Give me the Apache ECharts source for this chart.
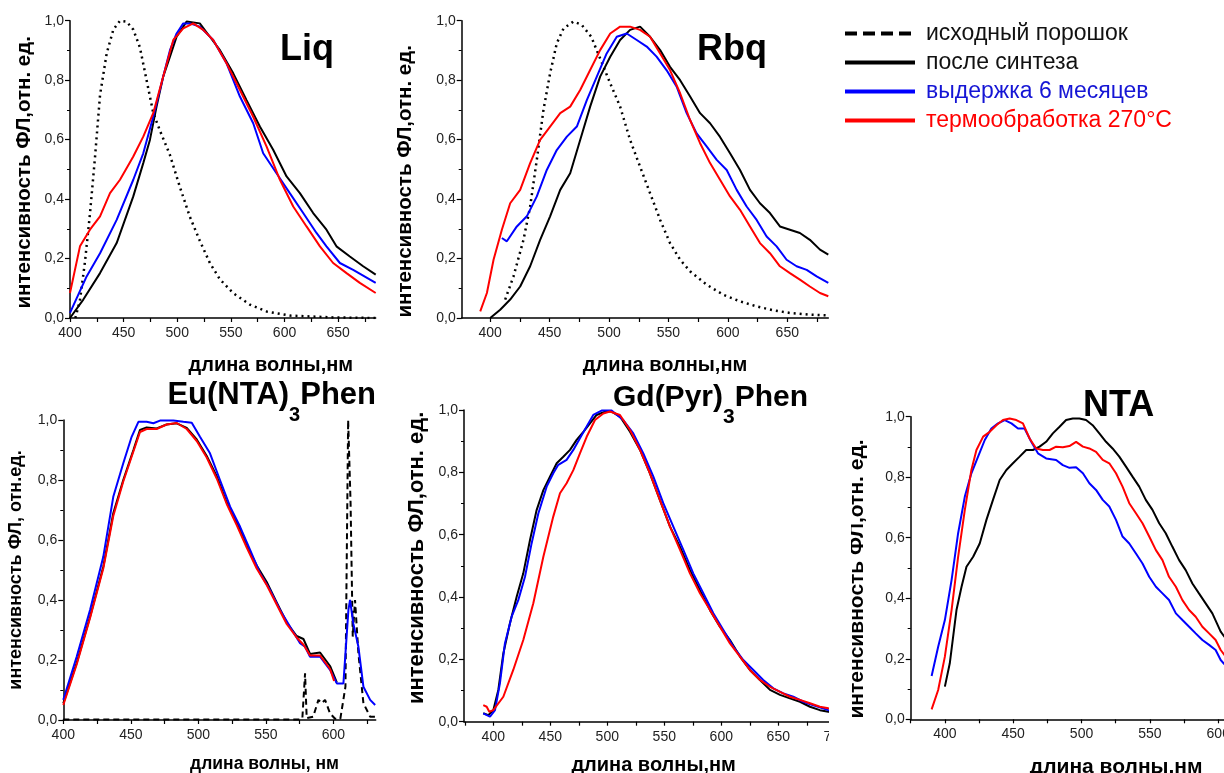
<!DOCTYPE html>
<html>
<head>
<meta charset="utf-8">
<title>Спектры ФЛ</title>
<script src="https://cdn.jsdelivr.net/npm/echarts@6.0.0/dist/echarts.min.js"></script>
<style>
    html, body { margin: 0; padding: 0; background: #fff; overflow: hidden; }
    #chart { width: 1224px; height: 773px; }
</style>
</head>
<body>
<div id="chart"></div>
<script>
// названия серий (легенда)
var names = ['исходный порошок', 'после синтеза', 'выдержка 6 месяцев', 'термообработка 270°C'];

// подписи оси X для каждого графика
var liqTicks = [400, 450, 500, 550, 600, 650];
var rbqTicks = [400, 450, 500, 550, 600, 650];
var euTicks = [400, 450, 500, 550, 600];
var gdTicks = [400, 450, 500, 550, 600, 650, 700];
var ntaTicks = [400, 450, 500, 550, 600];

// Liq
var liqPowder = [[405,0],[409.3,0.06],[414,0.19],[418.6,0.35],[423.3,0.54],[428,0.75],[434.2,0.89],[440.4,0.97],[446.6,1.0],[452.8,0.997],[459,0.97],[465.2,0.91],[471.4,0.8],[477.6,0.69],[483.9,0.63],[493,0.55],[502.5,0.44],[511.8,0.34],[521,0.26],[530.4,0.185],[539.8,0.13],[552,0.084],[567.7,0.045],[583.2,0.022],[605,0.008],[645,0.002],[685,0]];
var liqSynth = [[400,0],[412.4,0.062],[428,0.151],[443.5,0.252],[459,0.409],[468.3,0.521],[474.5,0.599],[480.7,0.711],[486.9,0.812],[493.2,0.879],[499.4,0.946],[508.7,0.997],[521,0.991],[530.4,0.946],[539.8,0.901],[552.2,0.823],[564.6,0.733],[577,0.644],[589.4,0.566],[601.9,0.476],[614.3,0.42],[626.7,0.353],[639.1,0.297],[648.4,0.241],[660.9,0.207],[673.3,0.174],[685,0.146]];
var liqAged = [[400,0.017],[415.5,0.14],[428,0.218],[443.5,0.33],[459,0.465],[468.3,0.554],[477.6,0.677],[486.9,0.812],[493.2,0.901],[499.4,0.957],[505.6,0.991],[511.8,0.991],[521,0.98],[533.5,0.935],[545.9,0.857],[558.4,0.745],[570.8,0.655],[580.1,0.554],[592.5,0.487],[604.9,0.42],[617.4,0.353],[629.8,0.286],[639.1,0.241],[651.6,0.185],[664,0.162],[685,0.118]];
var liqHeated = [[400,0.084],[409.3,0.241],[418.6,0.297],[428,0.342],[437.3,0.42],[446.6,0.465],[459,0.543],[468.3,0.61],[477.6,0.689],[486.9,0.812],[496.3,0.935],[505.6,0.974],[514.9,0.991],[524.2,0.969],[533.5,0.935],[545.9,0.857],[558.4,0.767],[570.8,0.677],[583.2,0.577],[595.7,0.465],[608.1,0.375],[620.5,0.308],[633,0.241],[645.3,0.185],[657.8,0.151],[670.2,0.118],[685,0.084]];

// Rbq
var rbqPowder = [[412.6,0.062],[419.6,0.14],[428,0.263],[433.6,0.375],[439.2,0.532],[444.8,0.7],[450.4,0.823],[456,0.924],[461.7,0.974],[470,0.997],[477,0.986],[485,0.946],[493,0.868],[501,0.789],[509.3,0.711],[517.7,0.599],[526,0.51],[534.5,0.42],[543,0.33],[551.3,0.252],[559.8,0.196],[568.2,0.157],[582.2,0.112],[596.2,0.078],[610.2,0.056],[624.2,0.039],[638.2,0.026],[652.2,0.017],[669,0.011],[684.5,0.009]];
var rbqSynth = [[400,0],[408.4,0.028],[416.8,0.062],[425.2,0.106],[433.6,0.174],[442,0.263],[450.4,0.342],[458.9,0.431],[467.3,0.487],[475.7,0.599],[484.1,0.711],[492.5,0.812],[501,0.879],[509.3,0.935],[517.7,0.969],[526.1,0.98],[534.5,0.946],[543,0.901],[551.3,0.845],[559.8,0.8],[568.2,0.745],[576.6,0.689],[585,0.655],[593.4,0.609],[601.8,0.554],[610.2,0.498],[618.6,0.431],[627,0.386],[635.4,0.353],[643.8,0.308],[652.2,0.297],[660.6,0.286],[669,0.263],[677.5,0.23],[684.5,0.213]];
var rbqAged = [[409.8,0.269],[414,0.258],[422.4,0.308],[430.8,0.342],[439.2,0.409],[447.6,0.498],[456,0.565],[464.5,0.61],[472.9,0.644],[481.3,0.733],[489.7,0.812],[498,0.89],[506.5,0.946],[514.9,0.957],[523.3,0.935],[531.7,0.913],[540,0.879],[548.5,0.833],[556.9,0.778],[565.3,0.689],[573.7,0.621],[582.1,0.577],[590.6,0.532],[599,0.498],[607.4,0.431],[615.8,0.375],[624.2,0.33],[632.6,0.274],[641,0.241],[649.4,0.196],[657.8,0.174],[666.3,0.162],[674.7,0.14],[684.5,0.118]];
var rbqHeated = [[391.6,0.022],[397.2,0.084],[402.8,0.196],[409.8,0.297],[416.8,0.386],[425.2,0.431],[433.6,0.521],[442,0.599],[450.4,0.644],[458.9,0.689],[467.3,0.711],[475.7,0.767],[484.1,0.834],[492.5,0.901],[501,0.957],[509.3,0.98],[517.7,0.98],[526.1,0.969],[534.5,0.946],[543,0.89],[551.3,0.834],[559.8,0.756],[568.2,0.666],[576.6,0.588],[585,0.521],[593.4,0.465],[601.8,0.409],[610.2,0.364],[618.6,0.308],[627,0.252],[635.4,0.218],[643.8,0.174],[652.2,0.151],[660.6,0.129],[669,0.106],[677.5,0.084],[684.5,0.073]];

// Eu(NTA)3Phen
var euPowder = [[400,0.002],[575,0.002],[577,0.006],[579,0.156],[580.2,0.006],[585,0.011],[588.9,0.067],[591.4,0.056],[593.8,0.067],[597.5,0.022],[601.2,0.004],[605.1,0.004],[608.9,0.111],[610.9,1.0],[612.7,0.722],[614.3,0.278],[616,0.4],[618.5,0.222],[622.2,0.056],[627.2,0.011],[631.4,0.011]];
var euSynth = [[400,0.056],[409.9,0.19],[419.8,0.344],[429.6,0.511],[437,0.689],[444.4,0.8],[451.9,0.9],[456.8,0.967],[461.7,0.975],[469.1,0.972],[476.5,0.985],[484,0.989],[491.4,0.974],[498.8,0.935],[506.2,0.88],[513.6,0.813],[521,0.725],[528.4,0.66],[535.8,0.582],[543.2,0.515],[550.6,0.46],[558,0.392],[565.4,0.325],[572.8,0.28],[577.8,0.27],[582.7,0.22],[590.1,0.225],[597.5,0.18],[602.5,0.125]];
var euAged = [[400,0.067],[409.9,0.211],[419.8,0.367],[429.6,0.544],[437,0.744],[444.4,0.856],[450.6,0.944],[455.6,0.994],[461.7,0.994],[466.7,0.989],[471.6,0.998],[481.5,0.998],[488.9,0.994],[495.1,0.991],[501.2,0.944],[508.6,0.889],[516,0.8],[523.5,0.711],[530.9,0.644],[538.3,0.567],[545.7,0.489],[553.1,0.433],[560.5,0.367],[567.9,0.311],[575.3,0.256],[579,0.244],[582.7,0.211],[590.1,0.211],[597.5,0.167],[602.5,0.122],[607.4,0.122],[611.1,0.367],[612.3,0.4],[614.7,0.322],[618.5,0.244],[622.2,0.111],[627.2,0.067],[630.9,0.05]];
var euHeated = [[400,0.05],[409.9,0.185],[419.8,0.34],[429.6,0.505],[437,0.68],[444.4,0.795],[451.9,0.895],[456.8,0.96],[461.7,0.97],[469.1,0.97],[476.5,0.985],[484,0.99],[491.4,0.97],[498.8,0.93],[506.2,0.875],[513.6,0.805],[521,0.72],[528.4,0.65],[535.8,0.575],[543.2,0.505],[550.6,0.45],[558,0.385],[565.4,0.32],[572.8,0.275],[578,0.25],[582.7,0.215],[590.1,0.215],[597.5,0.17],[600.5,0.13]];

// Gd(Pyr)3Phen
var gdSynth = [[391.2,0.027],[395.6,0.021],[400,0.037],[404.4,0.102],[408.8,0.219],[414.6,0.316],[420.5,0.401],[426.3,0.476],[432.2,0.583],[438,0.679],[443.9,0.743],[449.7,0.786],[455.6,0.829],[461.4,0.85],[467.3,0.872],[473.1,0.904],[479,0.93],[484.8,0.957],[490.6,0.984],[498,0.995],[503.8,0.995],[511.1,0.979],[519.9,0.93],[528.7,0.872],[537.4,0.797],[546.2,0.711],[555,0.626],[563.8,0.561],[572.5,0.487],[581.3,0.422],[590.1,0.358],[598.8,0.305],[607.6,0.262],[616.4,0.209],[625.1,0.166],[633.9,0.134],[642.7,0.102],[651.5,0.086],[660.2,0.075],[669,0.064],[677.8,0.048],[686.5,0.037],[693.9,0.032],[700,0.03]];
var gdAged = [[391.2,0.027],[397.1,0.016],[401.5,0.037],[405.8,0.123],[410.2,0.251],[416.1,0.337],[421.9,0.39],[427.8,0.465],[433.6,0.572],[439.5,0.668],[446.8,0.754],[452.6,0.797],[457,0.824],[464.3,0.84],[470.2,0.872],[476,0.909],[481.9,0.947],[487.7,0.984],[495,0.998],[503.8,0.998],[514,0.968],[522.8,0.925],[531.6,0.861],[540.4,0.786],[549.1,0.701],[557.9,0.626],[566.7,0.551],[575.4,0.476],[584.2,0.412],[593,0.348],[601.8,0.294],[610.5,0.241],[619.3,0.198],[628.1,0.166],[636.8,0.134],[645.6,0.107],[654.4,0.091],[663.2,0.08],[671.9,0.064],[680.7,0.053],[693.9,0.037],[700,0.035]];
var gdHeated = [[391.2,0.053],[394.2,0.048],[396.5,0.032],[400,0.037],[408.8,0.08],[417.5,0.166],[426.3,0.262],[435.1,0.38],[443.9,0.529],[452.6,0.658],[458.5,0.733],[464.3,0.765],[470.2,0.807],[476,0.861],[481.9,0.914],[489.2,0.968],[496.5,0.989],[502.3,0.995],[511.1,0.984],[519.9,0.936],[528.7,0.872],[537.4,0.797],[546.2,0.711],[555,0.626],[563.8,0.551],[572.5,0.476],[581.3,0.412],[590.1,0.358],[598.8,0.305],[607.6,0.251],[616.4,0.209],[625.1,0.166],[633.9,0.134],[642.7,0.112],[651.5,0.096],[660.2,0.08],[669,0.07],[677.8,0.059],[686.5,0.048],[693.9,0.043],[700,0.04]];

// NTA
var ntaSynth = [[400,0.108],[403.6,0.185],[408.5,0.361],[412.2,0.438],[415.8,0.504],[420.7,0.537],[425.5,0.581],[430.4,0.659],[435.2,0.725],[440.1,0.791],[445,0.824],[449.8,0.846],[454.7,0.868],[459.5,0.89],[464.4,0.89],[469.3,0.901],[474.1,0.917],[479,0.945],[483.9,0.967],[488.7,0.989],[493.6,0.994],[498.4,0.994],[503.3,0.989],[508.1,0.972],[513,0.945],[517.9,0.917],[522.7,0.895],[527.6,0.868],[532.5,0.835],[537.3,0.802],[542.2,0.769],[547,0.725],[551.9,0.692],[556.8,0.648],[561.6,0.615],[566.5,0.57],[571.4,0.526],[576.2,0.493],[581.1,0.449],[585.9,0.416],[590.8,0.383],[595.7,0.35],[601.8,0.29],[605,0.27]];
var ntaAged = [[390.3,0.143],[395.1,0.24],[400,0.328],[404.9,0.46],[409.7,0.615],[414.6,0.736],[419.4,0.813],[424.3,0.868],[429.2,0.923],[434,0.961],[438.9,0.978],[443.8,0.989],[448.7,0.978],[453.5,0.961],[458.3,0.961],[463.2,0.917],[468.1,0.879],[474.1,0.862],[481.4,0.857],[486.3,0.84],[491.2,0.831],[496,0.833],[501,0.813],[505.7,0.78],[510.6,0.758],[515.5,0.725],[520.3,0.703],[525.2,0.659],[530,0.604],[534.9,0.581],[539.8,0.548],[544.6,0.515],[549.5,0.471],[554.4,0.438],[559.2,0.416],[564,0.394],[569,0.35],[573.8,0.328],[578.7,0.306],[583.5,0.284],[588.4,0.262],[593.3,0.246],[598.1,0.229],[601.8,0.196],[605,0.18]];
var ntaHeated = [[390.3,0.033],[395.1,0.097],[400,0.207],[404.9,0.361],[409.7,0.537],[414.6,0.692],[419.4,0.824],[423.1,0.89],[428,0.934],[432.8,0.95],[437.7,0.972],[442.5,0.989],[447.4,0.994],[452.3,0.989],[457.1,0.978],[462,0.928],[466.8,0.895],[471.7,0.89],[476.6,0.89],[481.4,0.901],[486.3,0.899],[491.1,0.903],[496,0.917],[501,0.901],[505.7,0.895],[510.6,0.884],[515.5,0.857],[520.3,0.846],[525.2,0.813],[530,0.769],[534.9,0.714],[539.8,0.681],[544.6,0.648],[549.5,0.604],[554.4,0.559],[559.2,0.526],[564,0.471],[569,0.438],[573.8,0.394],[578.7,0.361],[583.5,0.339],[588.4,0.306],[593.3,0.284],[598.1,0.262],[601.8,0.229],[605,0.21]];

var FONT = "'Liberation Sans', Arial, sans-serif";
var BLACK = '#000000', BLUE = '#0000ff', RED = '#ff0000';

var myChart = echarts.init(document.getElementById('chart'));

// сетки: Liq, Rbq, Eu, Gd, NTA
var grids = [
    {left: 70, top: 20.7, width: 305.7, height: 297.3},
    {left: 461.7, top: 20.7, width: 366.6, height: 297.3},
    {left: 63.3, top: 420, width: 312.4, height: 300},
    {left: 464, top: 410, width: 371.3, height: 311.7},
    {left: 910.7, top: 416.7, width: 313, height: 302.6}
];
grids.forEach(function (g) { g.outerBoundsMode = 'none'; });

var xRange = [[400, 685], [376, 684.5], [400, 631.3], [374.3, 700], [375, 604]];
var xLabels = [liqTicks, rbqTicks, euTicks, gdTicks, ntaTicks];
// подписи осей: размер шрифта, отступ, сдвиг
var xName = [
    {text: 'длина волны,нм', size: 20, gap: 37, pad: [0, 0, 0, 96]},
    {text: 'длина волны,нм', size: 20, gap: 37, pad: [0, 0, 0, 40]},
    {text: 'длина волны, нм', size: 17.5, gap: 35, pad: [0, 0, 0, 90]},
    {text: 'длина волны,нм', size: 20, gap: 34, pad: [0, 0, 0, 8]},
    {text: 'длина волны,нм', size: 21, gap: 37, pad: [0, 0, 0, 98]}
];
var yName = [
    {text: 'интенсивность ФЛ,отн. ед.', size: 20.5, gap: 35, pad: [0, 6, 0, 0]},
    {text: 'интенсивность ФЛ,отн. ед.', size: 20.5, gap: 46, pad: [0, 24, 0, 0]},
    {text: 'интенсивность ФЛ, отн.ед.', size: 18, gap: 38, pad: 0},
    {text: 'интенсивность ФЛ,отн. ед.', size: 22, gap: 36, pad: [0, 0, 0, 16]},
    {text: 'интенсивность ФЛ,отн. ед.', size: 21, gap: 43, pad: [0, 22, 0, 0]}
];

function minorSteps(r) {
    var out = [];
    for (var v = Math.ceil(r[0] / 25) * 25; v <= r[1]; v += 25) out.push(v);
    return out;
}

var xAxes = [], yAxes = [];
for (var i = 0; i < 5; i++) {
    xAxes.push({
        type: 'value', gridIndex: i, min: xRange[i][0], max: xRange[i][1],
        name: xName[i].text, nameLocation: 'middle', nameGap: xName[i].gap,
        nameTextStyle: {fontFamily: FONT, fontWeight: 'bold', fontSize: xName[i].size, color: '#000', padding: xName[i].pad},
        axisLine: {show: true, onZero: false, lineStyle: {color: '#000', width: 1.5}},
        axisTick: {show: true, length: 4, customValues: minorSteps(xRange[i]), lineStyle: {color: '#000', width: 1.2}},
        axisLabel: {customValues: xLabels[i], margin: 8, fontFamily: FONT, fontSize: 14, color: '#222'},
        splitLine: {show: false}
    });
    yAxes.push({
        type: 'value', gridIndex: i, min: 0, max: 1, interval: 0.2,
        name: yName[i].text, nameLocation: 'middle', nameRotate: 90, nameGap: yName[i].gap,
        nameTextStyle: {fontFamily: FONT, fontWeight: 'bold', fontSize: yName[i].size, color: '#000', padding: yName[i].pad},
        axisLine: {show: true, lineStyle: {color: '#000', width: 1.5}},
        axisTick: {show: true, length: 5, lineStyle: {color: '#000', width: 1.2}},
        minorTick: {show: true, splitNumber: 2, length: 3, lineStyle: {color: '#000', width: 1}},
        axisLabel: {margin: 6, fontFamily: FONT, fontSize: 14, color: '#222',
            formatter: function (v) { return v.toFixed(1).replace('.', ','); }},
        splitLine: {show: false}
    });
}

function curve(name, idx, data, color, type, width) {
    return {
        type: 'line', name: name, xAxisIndex: idx, yAxisIndex: idx,
        data: data, symbol: 'none', smooth: false,
        lineStyle: {color: color, width: width || 2, type: type || 'solid'},
        itemStyle: {color: color}
    };
}

var series = [
    curve(names[0], 0, liqPowder, BLACK, [2, 4], 2.5),
    curve(names[1], 0, liqSynth, BLACK),
    curve(names[2], 0, liqAged, BLUE),
    curve(names[3], 0, liqHeated, RED),
    curve(names[0], 1, rbqPowder, BLACK, [2, 4], 2.5),
    curve(names[1], 1, rbqSynth, BLACK),
    curve(names[2], 1, rbqAged, BLUE),
    curve(names[3], 1, rbqHeated, RED),
    curve(names[0], 2, euPowder, BLACK, [6, 4], 2),
    curve(names[1], 2, euSynth, BLACK),
    curve(names[2], 2, euAged, BLUE),
    curve(names[3], 2, euHeated, RED),
    curve(names[1], 3, gdSynth, BLACK),
    curve(names[2], 3, gdAged, BLUE),
    curve(names[3], 3, gdHeated, RED),
    curve(names[1], 4, ntaSynth, BLACK),
    curve(names[2], 4, ntaAged, BLUE),
    curve(names[3], 4, ntaHeated, RED)
];

function titleText(x, y, text, size) {
    return {type: 'text', x: x, y: y, z: 50,
        style: {text: text, font: 'bold ' + size + 'px ' + FONT, fill: '#000', textVerticalAlign: 'middle'}};
}
function subTitle(x, y, a, sub, b, size, subSize, subPad) {
    return {type: 'text', x: x, y: y, z: 50,
        style: {
            text: '{m|' + a + '}{s|' + sub + '}{m|' + b + '}',
            textAlign: 'right', textVerticalAlign: 'top',
            rich: {
                m: {font: 'bold ' + size + 'px ' + FONT, fill: '#000', lineHeight: size + 2, verticalAlign: 'top'},
                s: {font: 'bold ' + subSize + 'px ' + FONT, fill: '#000', lineHeight: subSize, padding: [subPad, 0, 0, 0], verticalAlign: 'top'}
            }
        }};
}

var option = {
    animation: false,
    backgroundColor: '#fff',
    grid: grids,
    xAxis: xAxes,
    yAxis: yAxes,
    legend: {
        orient: 'vertical', left: 843, top: 22, padding: 0,
        itemWidth: 70, itemHeight: 14, itemGap: 6,
        textStyle: {fontFamily: FONT, fontSize: 23, lineHeight: 22, padding: [0, 0, 0, 6]},
        lineStyle: {width: 4},
        itemStyle: {opacity: 0},
        data: [
            {name: names[0], textStyle: {color: '#111'}, lineStyle: {type: [12, 6]}},
            {name: names[1], textStyle: {color: '#111'}},
            {name: names[2], textStyle: {color: '#1515d5'}},
            {name: names[3], textStyle: {color: '#ff0000'}}
        ]
    },
    graphic: [
        // маска: обрезка правого края графика Gd
        {type: 'rect', shape: {x: 829, y: 395, width: 22, height: 378}, style: {fill: '#fff'}, z: 100},
        titleText(280, 50, 'Liq', 36),
        titleText(697, 50, 'Rbq', 36),
        titleText(1083, 406, 'NTA', 36),
        subTitle(376, 380, 'Eu(NTA)', '3', 'Phen', 31, 20, 25),
        subTitle(808, 383, 'Gd(Pyr)', '3', 'Phen', 30, 21, 24)
    ],
    series: series
};
myChart.setOption(option);
</script>
</body>
</html>
